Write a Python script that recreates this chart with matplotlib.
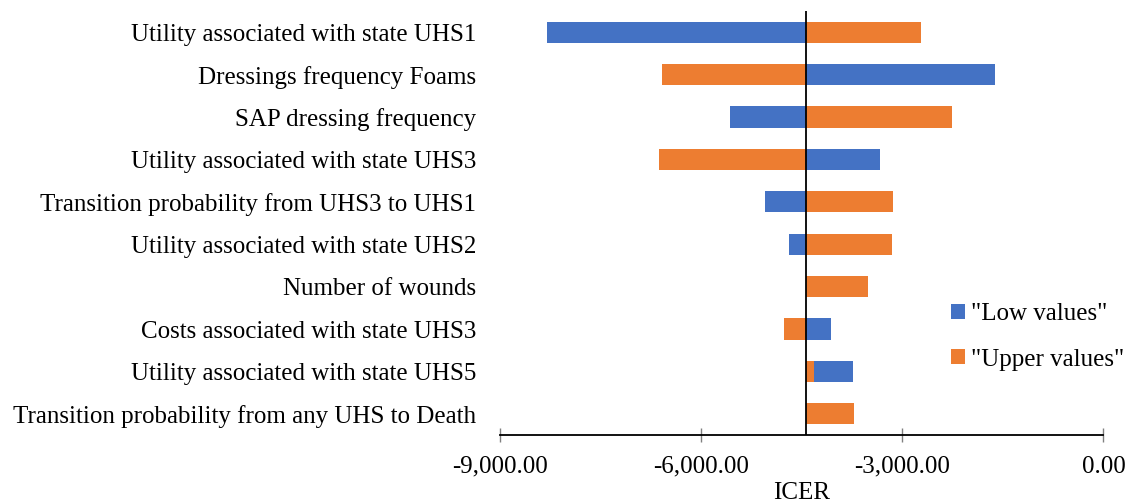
import matplotlib
matplotlib.use("Agg")
from matplotlib import pyplot as plt

plt.rcParams['font.family'] = ['Liberation Serif', 'DejaVu Serif']

params = [
    "Utility associated with state UHS1",
    "Dressings frequency Foams",
    "SAP dressing frequency",
    "Utility associated with state UHS3",
    "Transition probability from UHS3 to UHS1",
    "Utility associated with state UHS2",
    "Number of wounds",
    "Costs associated with state UHS3",
    "Utility associated with state UHS5",
    "Transition probability from any UHS to Death",
]
base_icer = -4433
low_values = [-8303, -1616, -5572, -3338, -5045, -4691, -4340, -4070, -3741, -4224]
upper_values = [-2721, -6576, -2258, -6631, -3134, -3159, -3507, -4771, -4313, -3726]

blue = "#4472C4"
orange = "#ED7D31"

fig = plt.figure(figsize=(11.26, 5.03), dpi=100)
ax = fig.add_axes([0.444, 0.135, 0.536, 0.843])

ypos = list(range(len(params)))
ax.barh(ypos, [v - base_icer for v in low_values], left=base_icer, height=0.5,
        color=blue, label='"Low values"', zorder=2)
ax.barh(ypos, [v - base_icer for v in upper_values], left=base_icer, height=0.5,
        color=orange, label='"Upper values"', zorder=3)
ax.axvline(base_icer, color="black", lw=1.3, zorder=4)

ax.set_xlim(-9000, 0)
ax.set_ylim(len(params) - 0.5, -0.5)
ax.set_xticks([-9000, -6000, -3000, 0])
ax.set_xticklabels(["-9,000.00", "-6,000.00", "-3,000.00", "0.00"], fontsize=18)
ax.set_yticks(ypos)
ax.set_yticklabels(params, fontsize=18)
ax.tick_params(axis="y", length=0, pad=17)
ax.tick_params(axis="x", direction="inout", length=10, width=1, color="#808080", pad=10)
ax.set_xlabel("ICER", fontsize=18, labelpad=3)

for s in ["top", "right", "left"]:
    ax.spines[s].set_visible(False)
ax.spines["bottom"].set_linewidth(1.3)

ax.legend(loc="upper left", bbox_to_anchor=(951 / 1126, 1 - 303 / 503),
          bbox_transform=fig.transFigure, frameon=False, fontsize=18,
          borderpad=0, borderaxespad=0,
          handlelength=0.55, handleheight=0.55, handletextpad=0.25, labelspacing=0.95)

fig.savefig("out.png", dpi=100)
